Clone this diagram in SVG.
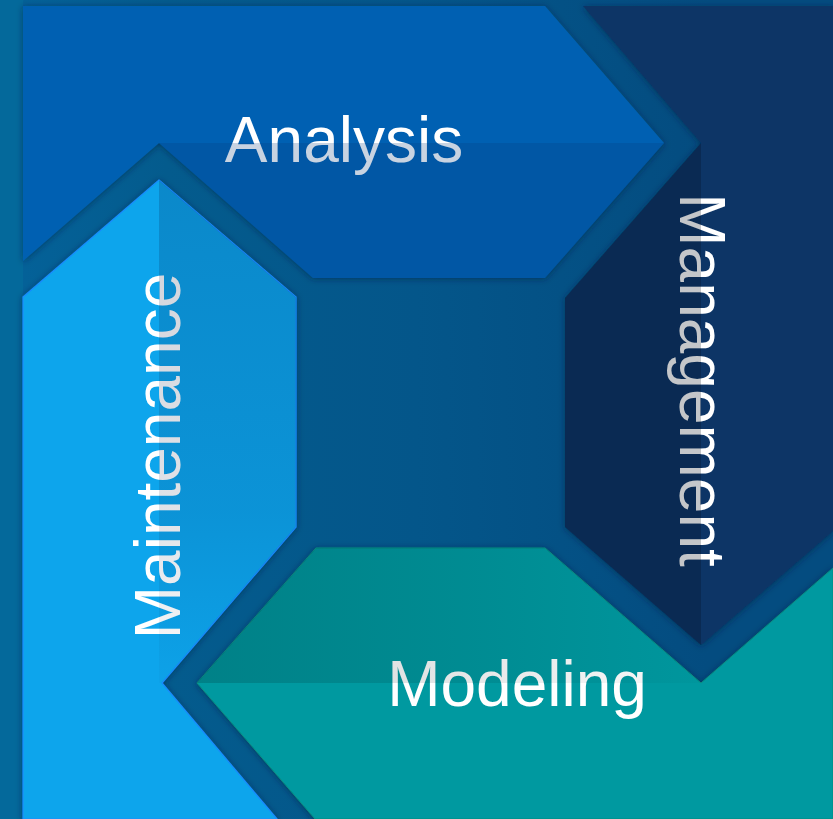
<svg xmlns="http://www.w3.org/2000/svg" width="833" height="819" viewBox="0 0 833 819">
  <defs>
    <linearGradient id="bg" x1="0" y1="0" x2="833" y2="0" gradientUnits="userSpaceOnUse">
      <stop offset="0" stop-color="#04629a"/>
      <stop offset="0.2" stop-color="#045b8d"/>
      <stop offset="0.5" stop-color="#04568a"/>
      <stop offset="0.85" stop-color="#044c80"/>
    </linearGradient>
    <linearGradient id="maintShade" x1="0" y1="180" x2="0" y2="690" gradientUnits="userSpaceOnUse">
      <stop offset="0" stop-color="#00103a" stop-opacity="0.19"/>
      <stop offset="0.65" stop-color="#00103a" stop-opacity="0.12"/>
      <stop offset="1" stop-color="#00103a" stop-opacity="0.02"/>
    </linearGradient>
    <linearGradient id="modelShade" x1="197" y1="0" x2="705" y2="0" gradientUnits="userSpaceOnUse">
      <stop offset="0" stop-color="#001418" stop-opacity="0.18"/>
      <stop offset="0.55" stop-color="#001418" stop-opacity="0.1"/>
      <stop offset="1" stop-color="#001418" stop-opacity="0.02"/>
    </linearGradient>
    <filter id="shadow" x="-10%" y="-10%" width="120%" height="120%">
      <feDropShadow dx="0" dy="1" stdDeviation="3" flood-color="#002040" flood-opacity="0.55"/>
    </filter>
  </defs>
  <style>
    .label { font-family: "Liberation Sans", Arial, sans-serif; font-size: 64px; fill: #ffffff; text-anchor: middle; }
  </style>

  <!-- backdrop -->
  <rect x="0" y="0" width="833" height="819" fill="url(#bg)"/>
  <rect x="0" y="0" width="23" height="819" fill="#04699b"/>

  <!-- Analysis: arrow pointing right -->
  <g id="analysis">
    <polygon points="23,6 545,6 664,143 545,278 313,278 159,143 23,261" fill="#0561b2" filter="url(#shadow)"/>
    <text class="label" x="344" y="162">Analysis</text>
    <polygon points="159,143 313,278 545,278 664,143" fill="#053677" fill-opacity="0.22"/>
  </g>

  <!-- Management: arrow pointing down -->
  <g id="management">
    <polygon points="583,6 833,6 833,531 701,645 565,527 565,298 701,143" fill="#0b3566" filter="url(#shadow)"/>
    <text class="label" transform="translate(680,380) rotate(90)" x="0" y="0">Management</text>
    <polygon points="701,143 565,298 565,527 701,645" fill="#000814" fill-opacity="0.23"/>
  </g>

  <!-- Modeling: arrow pointing left -->
  <g id="modeling">
    <polygon points="316,548 545,548 701,683 833,568 833,819 315,819 197,683" fill="#0099a0" stroke="#0a8c80" stroke-width="1" filter="url(#shadow)"/>
    <text class="label" x="517" y="706">Modeling</text>
    <polygon points="197,683 316,548 545,548 701,683" fill="url(#modelShade)"/>
  </g>

  <!-- Maintenance: arrow pointing up -->
  <g id="maintenance">
    <polygon points="23,297 159,180 296,297 296,527 162,683 277,819 23,819" fill="#0aa5ec" stroke="#1a8cff" stroke-width="1.2" filter="url(#shadow)"/>
    <text class="label" transform="translate(180,456) rotate(-90)" x="0" y="0">Maintenance</text>
    <polygon points="159,180 296,297 296,527 162,683 159,683" fill="url(#maintShade)"/>
  </g>
</svg>
